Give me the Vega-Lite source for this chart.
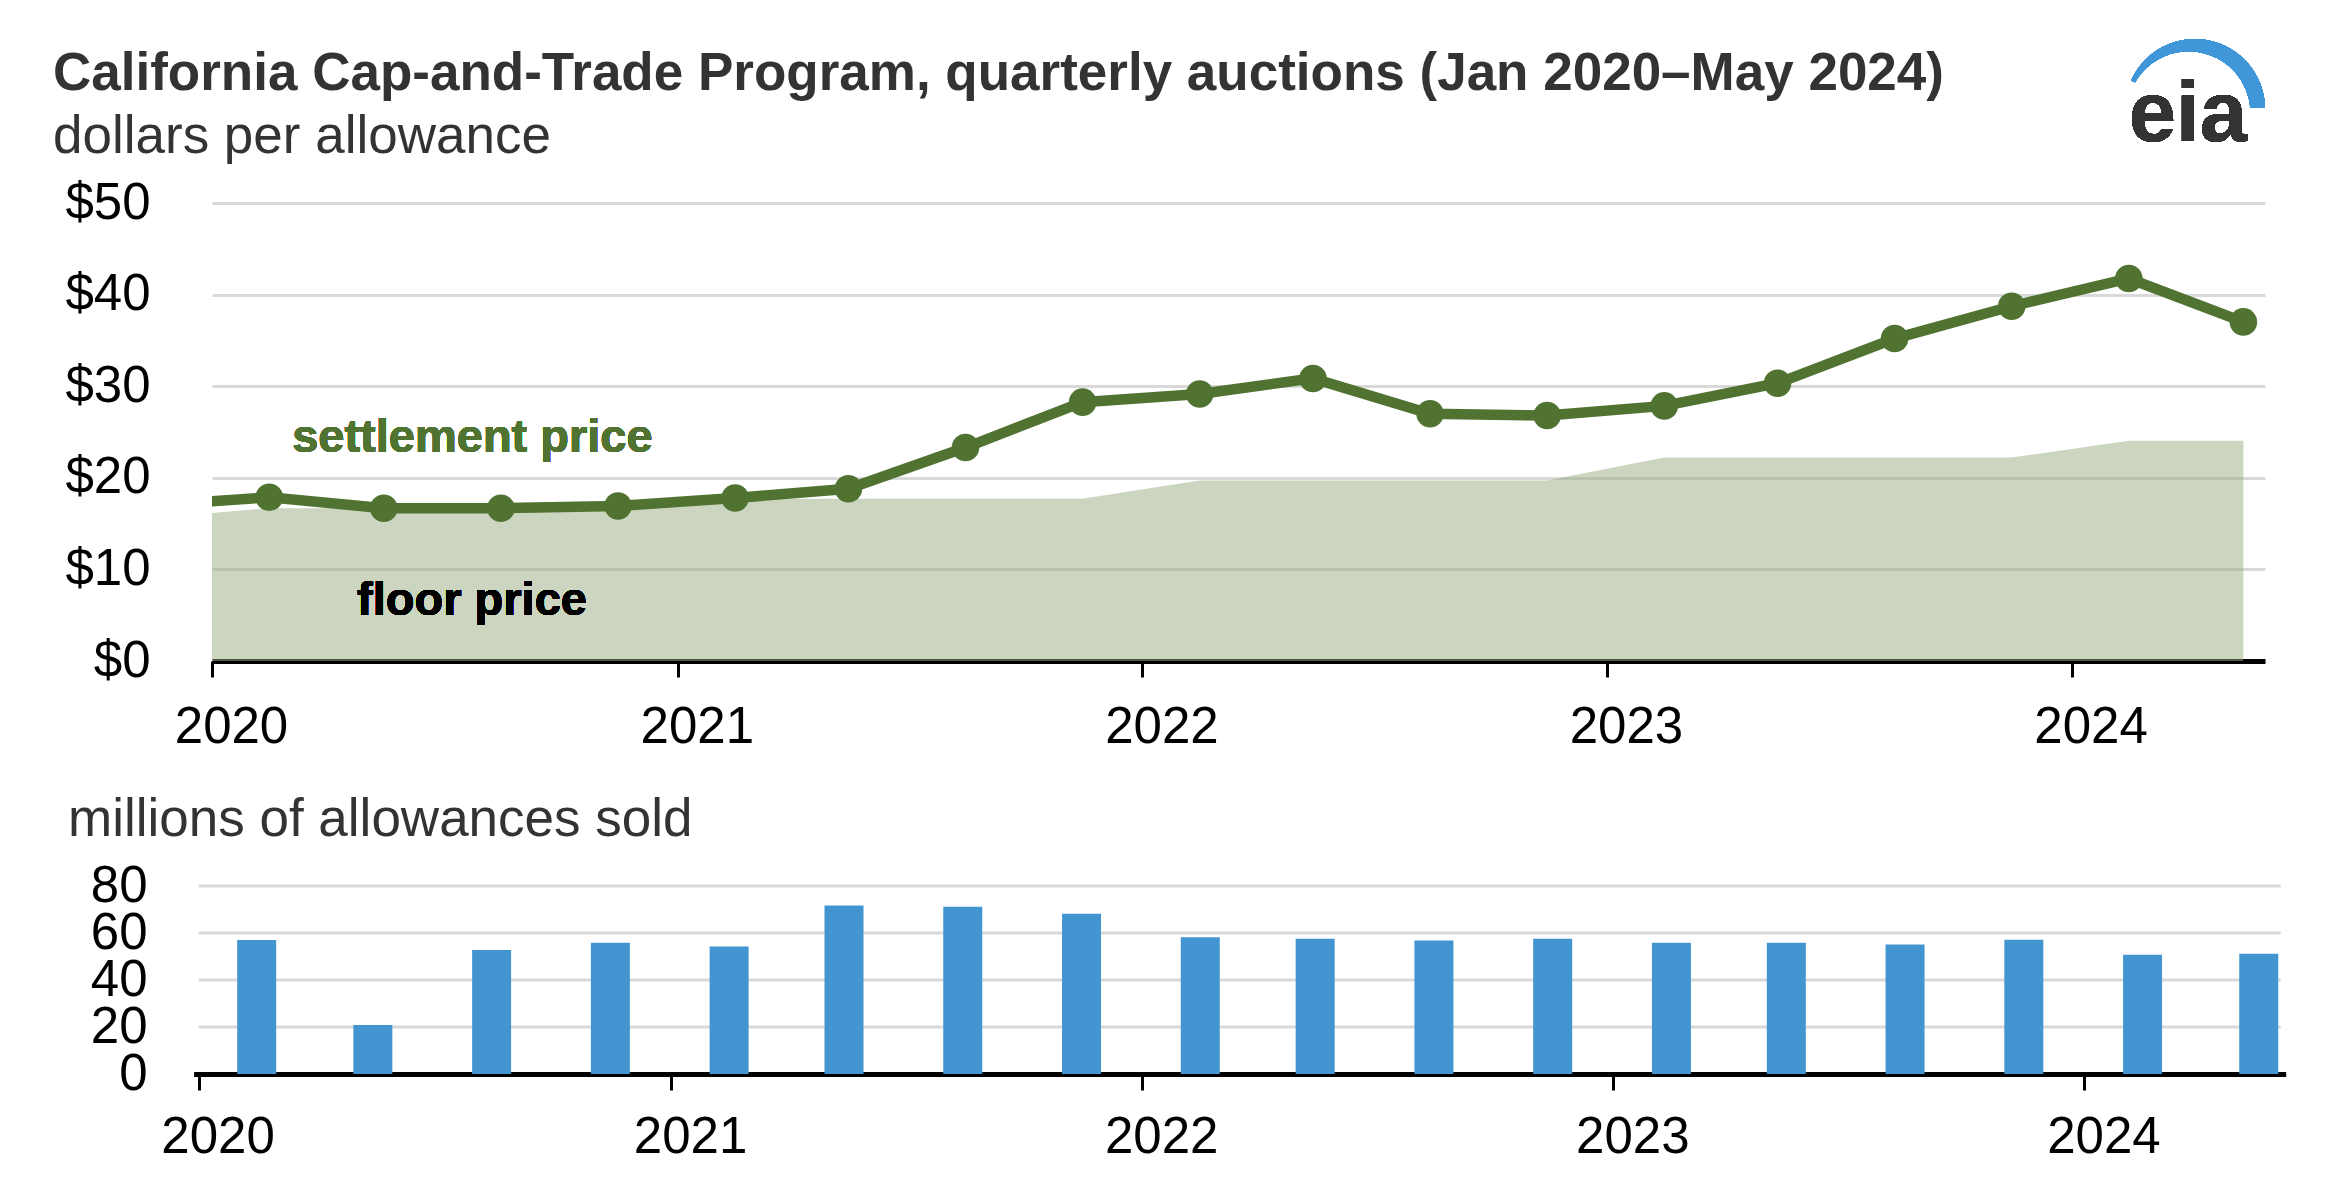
{
  "$schema": "https://vega.github.io/schema/vega-lite/v6.json",
  "background": "white",
  "padding": {"left": 53, "top": 39, "right": 10, "bottom": 10},
  "config": {
    "view": {"stroke": null},
    "font": "Liberation Sans",
    "axis": {"labelOverlap": false, "labelFlush": false, "labelFont": "Liberation Sans", "titleFont": "Liberation Sans"}
  },
  "datasets": {
    "auctions": [
      {"date": "2019-11-15", "price": 17.00, "floor": 15.62},
      {"date": "2020-02-15", "price": 17.87, "floor": 16.68, "sold": 57.0},
      {"date": "2020-05-15", "price": 16.68, "floor": 16.68, "sold": 20.9},
      {"date": "2020-08-15", "price": 16.68, "floor": 16.68, "sold": 52.8},
      {"date": "2020-11-15", "price": 16.92, "floor": 16.68, "sold": 55.9},
      {"date": "2021-02-15", "price": 17.80, "floor": 17.71, "sold": 54.3},
      {"date": "2021-05-15", "price": 18.80, "floor": 17.71, "sold": 71.7},
      {"date": "2021-08-15", "price": 23.30, "floor": 17.71, "sold": 71.2},
      {"date": "2021-11-15", "price": 28.26, "floor": 17.71, "sold": 68.2},
      {"date": "2022-02-15", "price": 29.15, "floor": 19.70, "sold": 58.2},
      {"date": "2022-05-15", "price": 30.85, "floor": 19.70, "sold": 57.6},
      {"date": "2022-08-15", "price": 27.00, "floor": 19.70, "sold": 56.8},
      {"date": "2022-11-15", "price": 26.80, "floor": 19.70, "sold": 57.6},
      {"date": "2023-02-15", "price": 27.85, "floor": 22.21, "sold": 55.8},
      {"date": "2023-05-15", "price": 30.33, "floor": 22.21, "sold": 55.8},
      {"date": "2023-08-15", "price": 35.20, "floor": 22.21, "sold": 55.1},
      {"date": "2023-11-15", "price": 38.73, "floor": 22.21, "sold": 57.1},
      {"date": "2024-02-15", "price": 41.76, "floor": 24.04, "sold": 50.7},
      {"date": "2024-05-15", "price": 37.02, "floor": 24.04, "sold": 51.2}
    ],
    "grid": [{"v": 20}, {"v": 40}, {"v": 60}, {"v": 80}]
  },
  "spacing": 42,
  "vconcat": [
    {
      "width": 2053,
      "height": 458,
      "title": {
        "text": "California Cap-and-Trade Program, quarterly auctions (Jan 2020–May 2024)",
        "subtitle": "dollars per allowance",
        "anchor": "start",
        "frame": "group",
        "dx": -159,
        "offset": -125,
        "font": "Liberation Sans",
        "fontSize": 53,
        "fontWeight": "bold",
        "color": "#333333",
        "subtitleFont": "Liberation Sans",
        "subtitleFontSize": 53,
        "subtitleColor": "#333333",
        "subtitlePadding": 10
      },
      "data": {"name": "auctions"},
      "layer": [
        {
          "mark": {"type": "area", "color": "#97ab81", "opacity": 0.5, "clip": true},
          "encoding": {
            "x": {
              "field": "date", "type": "temporal",
              "scale": {"domain": [{"year": 2020, "month": 1, "date": 1}, {"year": 2024, "month": 6, "date": 1}]},
              "axis": {
                "title": null, "format": "%Y",
                "values": [{"year": 2020, "month": 1, "date": 1}, {"year": 2021, "month": 1, "date": 1}, {"year": 2022, "month": 1, "date": 1}, {"year": 2023, "month": 1, "date": 1}, {"year": 2024, "month": 1, "date": 1}],
                "grid": false, "domainColor": "black", "domainWidth": 5,
                "tickColor": "black", "tickWidth": 3, "tickSize": 16,
                "labelFontSize": 51, "labelColor": "black", "labelPadding": 25, "labelOffset": 19
              }
            },
            "y": {
              "field": "floor", "type": "quantitative",
              "scale": {"domain": [0, 50], "nice": false},
              "axis": {
                "title": null, "values": [0, 10, 20, 30, 40, 50],
                "labelExpr": "'$' + datum.value",
                "grid": true, "gridColor": "#d9d9d9", "gridWidth": 3,
                "domain": false, "ticks": false, "tickSize": 0,
                "labelFontSize": 51, "labelColor": "black", "labelPadding": 62
              }
            }
          }
        },
        {
          "mark": {"type": "line", "color": "#507332", "strokeWidth": 10.5, "clip": true},
          "encoding": {
            "x": {"field": "date", "type": "temporal"},
            "y": {"field": "price", "type": "quantitative"}
          }
        },
        {
          "mark": {"type": "point", "filled": true, "size": 760, "color": "#507332", "opacity": 1, "clip": true},
          "encoding": {
            "x": {"field": "date", "type": "temporal"},
            "y": {"field": "price", "type": "quantitative"}
          }
        },
        {
          "mark": {"type": "text", "text": "settlement price", "align": "left", "baseline": "alphabetic", "fontSize": 47, "fontWeight": "bold", "color": "#507332"},
          "encoding": {
            "x": {"datum": {"year": 2020, "month": 3, "date": 4}, "type": "temporal"},
            "y": {"datum": 22.8, "type": "quantitative"}
          }
        },
        {
          "mark": {"type": "text", "text": "floor price", "align": "left", "baseline": "alphabetic", "fontSize": 47, "fontWeight": "bold", "color": "black"},
          "encoding": {
            "x": {"datum": {"year": 2020, "month": 4, "date": 24}, "type": "temporal"},
            "y": {"datum": 5.0, "type": "quantitative"}
          }
        },
        {
          "mark": {"type": "arc", "radius": 70, "radius2": 0, "theta": -1.15, "theta2": 1.55, "color": "#3f97d9"},
          "encoding": {
            "x": {"datum": {"year": 2024, "month": 4, "date": 7}, "type": "temporal"},
            "y": {"datum": 60.26, "type": "quantitative"}
          }
        },
        {
          "mark": {"type": "arc", "radius": 61, "radius2": 0, "theta": -1.5, "theta2": 2.0, "color": "white"},
          "encoding": {
            "x": {"datum": {"year": 2024, "month": 4, "date": 2}, "type": "temporal"},
            "y": {"datum": 59.8, "type": "quantitative"}
          }
        },
        {
          "mark": {"type": "text", "text": "eia", "align": "left", "baseline": "alphabetic", "fontSize": 85, "fontWeight": "bold", "color": "#333333"},
          "encoding": {
            "x": {"datum": {"year": 2024, "month": 2, "date": 15}, "type": "temporal"},
            "y": {"datum": 56.8, "type": "quantitative"}
          }
        }
      ]
    },
    {
      "width": 2074,
      "height": 188,
      "title": {
        "text": "millions of allowances sold",
        "anchor": "start",
        "frame": "group",
        "dx": -144,
        "offset": 13,
        "font": "Liberation Sans",
        "fontSize": 53,
        "fontWeight": "normal",
        "color": "#333333"
      },
      "layer": [
        {
          "data": {"name": "grid"},
          "mark": {"type": "rule", "color": "#d9d9d9", "strokeWidth": 3},
          "encoding": {
            "y": {"field": "v", "type": "quantitative"},
            "x": {"datum": {"year": 2020, "month": 1, "date": 1}, "type": "temporal"},
            "x2": {"datum": {"year": 2024, "month": 6, "date": 1}}
          }
        },
        {
          "data": {"name": "auctions"},
          "mark": {"type": "bar", "color": "#4395d1", "size": 39, "clip": true},
          "encoding": {
            "x": {
              "field": "date", "type": "temporal",
              "scale": {"domain": [{"year": 2020, "month": 1, "date": 1}, {"year": 2024, "month": 6, "date": 1}], "range": [-18.4, 2073.7]},
              "axis": {
                "title": null, "format": "%Y",
                "values": [{"year": 2020, "month": 1, "date": 1}, {"year": 2021, "month": 1, "date": 1}, {"year": 2022, "month": 1, "date": 1}, {"year": 2023, "month": 1, "date": 1}, {"year": 2024, "month": 1, "date": 1}],
                "grid": false, "domainColor": "black", "domainWidth": 5,
                "tickColor": "black", "tickWidth": 3, "tickSize": 16,
                "labelFontSize": 51, "labelColor": "black", "labelPadding": 22, "labelOffset": 19
              }
            },
            "y": {
              "field": "sold", "type": "quantitative",
              "scale": {"domain": [0, 80], "nice": false},
              "axis": {
                "title": null, "values": [0, 20, 40, 60, 80],
                "grid": false, "domain": false, "ticks": false, "tickSize": 0,
                "labelFontSize": 51, "labelColor": "black", "labelPadding": 65
              }
            }
          }
        }
      ]
    }
  ]
}
